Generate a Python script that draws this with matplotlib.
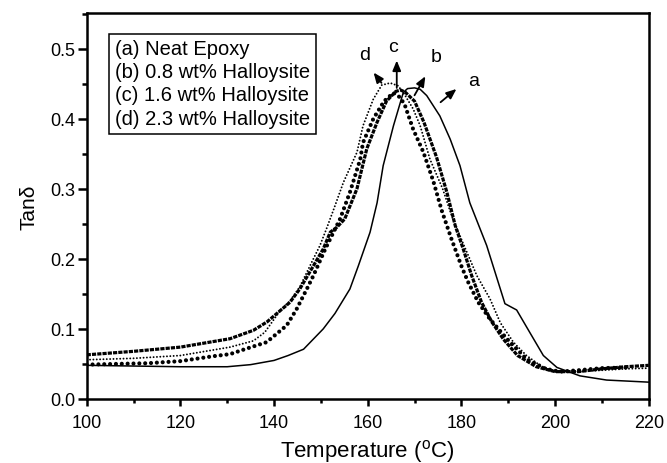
import matplotlib
matplotlib.use("Agg")
import matplotlib.pyplot as plt
from matplotlib.patches import Rectangle
from matplotlib.ticker import MultipleLocator

plt.rcParams['font.family'] = ['Liberation Sans', 'DejaVu Sans']
plt.rcParams['mathtext.fontset'] = 'custom'
plt.rcParams['mathtext.rm'] = 'Liberation Sans'
plt.rcParams['lines.scale_dashes'] = False

# ---- data ----
a_T = [100, 110, 120, 130, 135, 140, 143, 146.3, 150.5, 153, 156.2, 158, 160.5, 162, 163.3,
       165.5, 167.6, 168.5, 170, 171.2, 172.6, 175.4, 177.6, 179.7, 181.8, 185.4, 189.3,
       191.8, 194.6, 197.5, 200.4, 205.3, 211, 220]
a_v = [0.048, 0.047, 0.046, 0.046, 0.049, 0.055, 0.062, 0.071, 0.100, 0.122, 0.157, 0.190,
       0.238, 0.280, 0.333, 0.390, 0.4375, 0.443, 0.444, 0.442, 0.433, 0.404, 0.371, 0.333,
       0.280, 0.219, 0.136, 0.127, 0.095, 0.062, 0.045, 0.033, 0.027, 0.024]

b_T = [100, 106, 113, 120, 127, 130.6, 134.2, 138.4, 142.7, 144.8, 147, 148.4, 151, 154.1,
       156.2, 158.4, 159, 161.2, 163.5, 165.5, 167, 168, 169.7, 171.9, 174, 175.8, 177.9,
       180.1, 181.5, 183.6, 186.1, 189.7, 193.9, 198, 201, 205, 210, 216]
b_v = [0.049, 0.050, 0.051, 0.054, 0.061, 0.064, 0.072, 0.081, 0.105, 0.128, 0.157, 0.176,
       0.215, 0.257, 0.295, 0.342, 0.366, 0.400, 0.425, 0.437, 0.430, 0.418, 0.385, 0.352,
       0.311, 0.269, 0.228, 0.188, 0.166, 0.138, 0.114, 0.086, 0.057, 0.043, 0.039, 0.041,
       0.044, 0.045]

c_T = [100, 110, 120, 130.6, 135.6, 138.5, 141.3, 143.4, 145.5, 148.4, 150.5, 152, 153.4,
       155.1, 157.7, 159.8, 162, 164, 166, 167, 168, 170, 172, 174.7, 176.9, 178.7, 180.4,
       182.2, 184.3, 186.5, 189, 192, 196, 200, 205, 210, 215, 220]
c_v = [0.063, 0.068, 0.074, 0.086, 0.098, 0.110, 0.126, 0.138, 0.157, 0.190, 0.214, 0.238,
       0.245, 0.257, 0.300, 0.357, 0.395, 0.425, 0.439, 0.441, 0.438, 0.425, 0.395, 0.345,
       0.295, 0.247, 0.214, 0.176, 0.138, 0.110, 0.085, 0.062, 0.046, 0.039, 0.039, 0.043,
       0.046, 0.048]

d_T = [100, 110, 120, 130.6, 135.6, 138, 141.3, 143.4, 145.5, 148.4, 149.8, 151.2, 152.7,
       154.8, 157.7, 159, 161.2, 163, 164.8, 166.5, 168, 169.7, 171.2, 173.3, 176, 178,
       180.5, 183.3, 186.1, 188.3, 191.1, 193.9, 197, 200, 205, 210, 215, 220]
d_v = [0.056, 0.058, 0.062, 0.074, 0.083, 0.095, 0.126, 0.140, 0.160, 0.200, 0.219, 0.243,
       0.270, 0.309, 0.352, 0.390, 0.428, 0.448, 0.451, 0.447, 0.433, 0.414, 0.390, 0.342,
       0.300, 0.260, 0.220, 0.176, 0.143, 0.109, 0.081, 0.062, 0.047, 0.040, 0.039, 0.041,
       0.043, 0.044]

legend_lines = ["(a) Neat Epoxy", "(b) 0.8 wt% Halloysite",
                "(c) 1.6 wt% Halloysite", "(d) 2.3 wt% Halloysite"]
x_ticks = [100, 120, 140, 160, 180, 200, 220]
y_ticks = [0.0, 0.1, 0.2, 0.3, 0.4, 0.5]

fig = plt.figure(figsize=(6.67, 4.64), dpi=100)
ax = fig.add_axes([0.130, 0.138, 0.8426, 0.832])

ax.plot(a_T, a_v, color='black', lw=1.1, ls='-')
ax.plot(b_T, b_v, color='black', lw=3.0, ls=(0, (0.01, 4.2)), dash_capstyle='round')
ax.plot(c_T, c_v, color='black', lw=2.3, ls=(0, (3.0, 0.8)))
ax.plot(d_T, d_v, color='black', lw=1.4, ls=(0, (0.01, 2.4)), dash_capstyle='round')

ax.set_xlim(100, 220)
ax.set_ylim(0, 0.551)
ax.set_xticks(x_ticks)
ax.set_yticks(y_ticks)
ax.set_yticklabels([f"{v:.1f}" for v in y_ticks])
ax.xaxis.set_minor_locator(MultipleLocator(10))
ax.yaxis.set_minor_locator(MultipleLocator(0.05))

for s in ax.spines.values():
    s.set_linewidth(1.8)
ax.tick_params(axis='both', which='both', direction='out', top=False, right=False, width=1.8)
ax.tick_params(axis='both', which='major', labelsize=13)
ax.tick_params(axis='x', which='major', length=5, pad=6)
ax.tick_params(axis='x', which='minor', length=3)
ax.tick_params(axis='y', which='major', length=6.5, pad=2)
ax.tick_params(axis='y', which='minor', length=3.5)

ax.set_xlabel(r"Temperature ($^{\mathrm{o}}$C)", fontsize=16, labelpad=4)
ax.set_ylabel("Tan\u03b4", fontsize=15, labelpad=8)

# legend box
ax.add_patch(Rectangle((0.040, 0.6865), 0.368, 0.259, transform=ax.transAxes,
                       fill=False, lw=1.1, ec='black'))
for i, t in enumerate(legend_lines):
    ax.text(0.0504, 0.9085 - i * 0.0605, t, transform=ax.transAxes, fontsize=14.5,
            va='center', ha='left')

# arrows + labels
arrow_kw = dict(arrowstyle='-|>,head_length=0.6,head_width=0.25', color='black', lw=1.3)
ax.annotate("", xy=(160.9, 0.469), xytext=(163.3, 0.448), arrowprops=arrow_kw)
ax.annotate("", xy=(166.2, 0.487), xytext=(166.2, 0.440), arrowprops=arrow_kw)
ax.annotate("", xy=(172.6, 0.464), xytext=(169.7, 0.430), arrowprops=arrow_kw)
ax.annotate("", xy=(179.4, 0.445), xytext=(175.1, 0.421), arrowprops=arrow_kw)
ax.text(159.4, 0.491, "d", fontsize=14, ha='center', va='center')
ax.text(165.5, 0.503, "c", fontsize=14, ha='center', va='center')
ax.text(174.7, 0.489, "b", fontsize=14, ha='center', va='center')
ax.text(182.6, 0.454, "a", fontsize=14, ha='center', va='center')

fig.savefig("out.png", dpi=100)
